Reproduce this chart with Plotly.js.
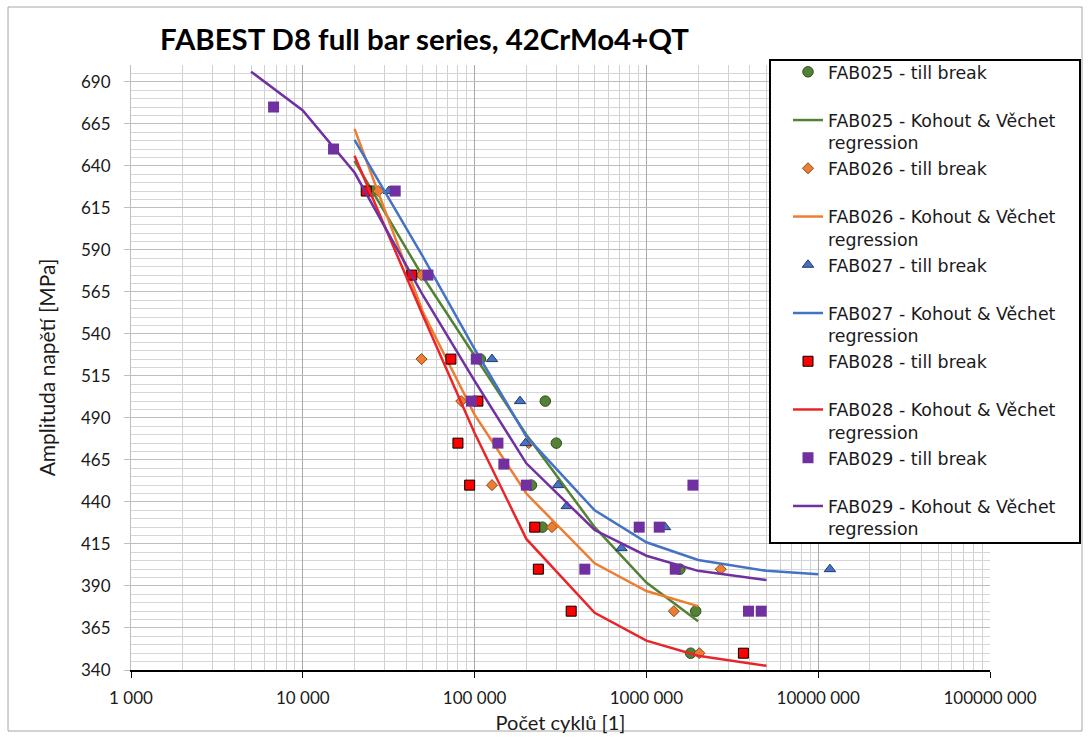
<!DOCTYPE html>
<html>
<head>
<meta charset="utf-8">
<script src="https://cdn.plot.ly/plotly-3.0.1.min.js"></script>
<style>html,body{margin:0;padding:0;background:#fff;}#chart{width:1090px;height:738px;}</style>
</head>
<body>
<div id="chart"></div>
<script>
// ---- data ----
const fab025_N = [25500, 108000, 258000, 299000, 214000, 248000, 1567000, 1936000, 1810000];
const fab025_S = [625, 525, 500, 475, 450, 425, 400, 375, 350];
const fab026_N = [27500, 48900, 49100, 83600, 206600, 126300, 282000, 2710000, 1445000, 2033000];
const fab026_S = [625, 575, 525, 500, 475, 450, 425, 400, 375, 350];
const fab027_N = [31700, 126200, 183800, 198000, 306000, 344000, 1283000, 716000, 11700000];
const fab027_S = [625, 525, 500, 475, 450, 437.5, 425, 412.5, 400];
const fab028_N = [23400, 43100, 72800, 104500, 80000, 93600, 224000, 235000, 365000, 3670000];
const fab028_S = [625, 575, 525, 500, 475, 450, 425, 400, 375, 350];
const fab029_N = [6760, 15100, 34500, 53500, 102300, 95700, 136700, 148000, 200000, 908000, 1188000, 1866000, 438000, 1472000, 3930000, 4660000];
const fab029_S = [675, 650, 625, 575, 525, 500, 475, 462.5, 450, 425, 425, 450, 400, 400, 375, 375];

const reg025_N = [20000, 50000, 100000, 200000, 500000, 1000000, 2000000];
const reg025_S = [643, 574, 527, 480, 425, 392, 369];
const reg026_N = [20000, 50000, 100000, 200000, 500000, 1000000, 2000000];
const reg026_S = [662, 553, 492, 445, 403.5, 387, 378];
const reg027_N = [20000, 50000, 100000, 200000, 500000, 1000000, 2000000, 5000000, 10000000];
const reg027_S = [655.5, 586, 531, 479, 435, 416, 405.5, 399, 397];
const reg028_N = [20000, 50000, 100000, 200000, 500000, 1000000, 2000000, 5000000];
const reg028_S = [646, 551, 481, 418, 374, 357.5, 348.5, 342.5];
const reg029_N = [5000, 10000, 20000, 50000, 100000, 200000, 500000, 1000000, 2000000, 5000000];
const reg029_S = [696, 673, 636, 563, 512, 463, 423.3, 408, 399, 393.5];

const xTickVals = [1000, 10000, 100000, 1000000, 10000000, 100000000];
const xTickText = ['1 000', '10 000', '100 000', '1000 000', '10000 000', '100000 000'];

const titleText = 'FABEST D8 full bar series, 42CrMo4+QT';
const xTitle = 'Počet cyklů [1]';
const yTitle = 'Amplituda napětí [MPa]';
const blank = '<br>\u00a0';

// ---- geometry helpers (pixel layout of the reference) ----
const W = 1090, H = 738;
const L = 131, R = 990, T = 65, B = 670;
const px = x => (x - L) / (R - L);
const py = y => (B - y) / (B - T);

const FONT = 'Lato, "Open Sans", sans-serif';
const LFONT = '"DejaVu Sans", "Open Sans", sans-serif';

function pts(name, N, S, sym, color, line, size) {
  return {type: 'scatter', mode: 'markers', name: name, x: N, y: S,
    marker: {symbol: sym, color: color, size: size, line: line}};
}
function reg(name, N, S, color) {
  return {type: 'scatter', mode: 'lines', name: name, x: N, y: S,
    line: {color: color, width: 2.5}};
}

const data = [
  pts('FAB025 - till break' + blank, fab025_N, fab025_S, 'circle', '#548235', {color: '#2f4d1c', width: 1}, 10.5),
  reg('FAB025 - Kohout & Věchet<br>regression', reg025_N, reg025_S, '#548235'),
  pts('FAB026 - till break' + blank, fab026_N, fab026_S, 'diamond', '#ED7D31', {color: '#8a4a1e', width: 1}, 8.5),
  reg('FAB026 - Kohout & Věchet<br>regression', reg026_N, reg026_S, '#ED7D31'),
  pts('FAB027 - till break' + blank, fab027_N, fab027_S, 'triangle-up', '#4472C4', {color: '#223a66', width: 1}, 10),
  reg('FAB027 - Kohout & Věchet<br>regression', reg027_N, reg027_S, '#4472C4'),
  pts('FAB028 - till break' + blank, fab028_N, fab028_S, 'square', '#FF0000', {color: '#000000', width: 1}, 10),
  reg('FAB028 - Kohout & Věchet<br>regression', reg028_N, reg028_S, '#E8262A'),
  pts('FAB029 - till break' + blank, fab029_N, fab029_S, 'square', '#7030A0', {color: '#7030A0', width: 0}, 11),
  reg('FAB029 - Kohout & Věchet<br>regression', reg029_N, reg029_S, '#7030A0')
];

const layout = {
  width: W, height: H,
  margin: {l: L, r: W - R, t: T, b: H - B},
  paper_bgcolor: '#fff', plot_bgcolor: '#fff',
  font: {family: FONT, size: 17, color: '#1a1a1a'},
  showlegend: true,
  title: {text: '<b>' + titleText + '</b>', xref: 'container', yref: 'container',
    x: 160 / W, xanchor: 'left', y: 1 - 40 / H, yanchor: 'middle',
    font: {family: FONT, size: 29.4, color: '#000'}},
  xaxis: {type: 'log', range: [3, 8], tickmode: 'array', tickvals: xTickVals, ticktext: xTickText,
    showgrid: true, gridcolor: '#a8a8a8', gridwidth: 1,
    minor: {dtick: 'D1', showgrid: true, gridcolor: '#d0d0d0', gridwidth: 1, ticks: ''},
    showline: true, linecolor: '#000', linewidth: 1.5, ticks: 'outside', ticklen: 6, tickcolor: '#000',
    ticklabelstandoff: 6, zeroline: false,
    title: {text: xTitle, standoff: 9, font: {size: 20}}},
  yaxis: {range: [340, 700], tickmode: 'linear', tick0: 340, dtick: 25,
    showgrid: true, gridcolor: '#bdbdbd', gridwidth: 1,
    minor: {dtick: 5, tick0: 340, showgrid: true, gridcolor: '#d6d6d6', gridwidth: 1, ticks: ''},
    showline: true, linecolor: '#bfbfbf', linewidth: 1, ticks: 'outside', ticklen: 6, tickcolor: '#bfbfbf',
    ticklabelstandoff: 10, zeroline: false,
    title: {text: yTitle, standoff: 19, font: {size: 21}}},
  legend: {x: px(788), xanchor: 'left', y: py(54), yanchor: 'top',
    bgcolor: 'rgba(0,0,0,0)', borderwidth: 0, valign: 'top', maxheight: 700,
    font: {family: LFONT, size: 17.4, color: '#1a1a1a'}, tracegroupgap: 0},
  shapes: [
    {type: 'rect', xref: 'paper', yref: 'paper', layer: 'above',
      x0: px(770), x1: px(1080), y0: py(543), y1: py(60),
      line: {color: '#000', width: 2}, fillcolor: '#fff'},
    {type: 'rect', xref: 'paper', yref: 'paper', layer: 'below',
      x0: px(8), x1: px(1082), y0: py(731), y1: py(7),
      line: {color: '#a6a6a6', width: 1}, fillcolor: 'rgba(0,0,0,0)'}
  ]
};

Plotly.newPlot('chart', data, layout, {displayModeBar: false, staticPlot: true});
</script>
</body>
</html>
